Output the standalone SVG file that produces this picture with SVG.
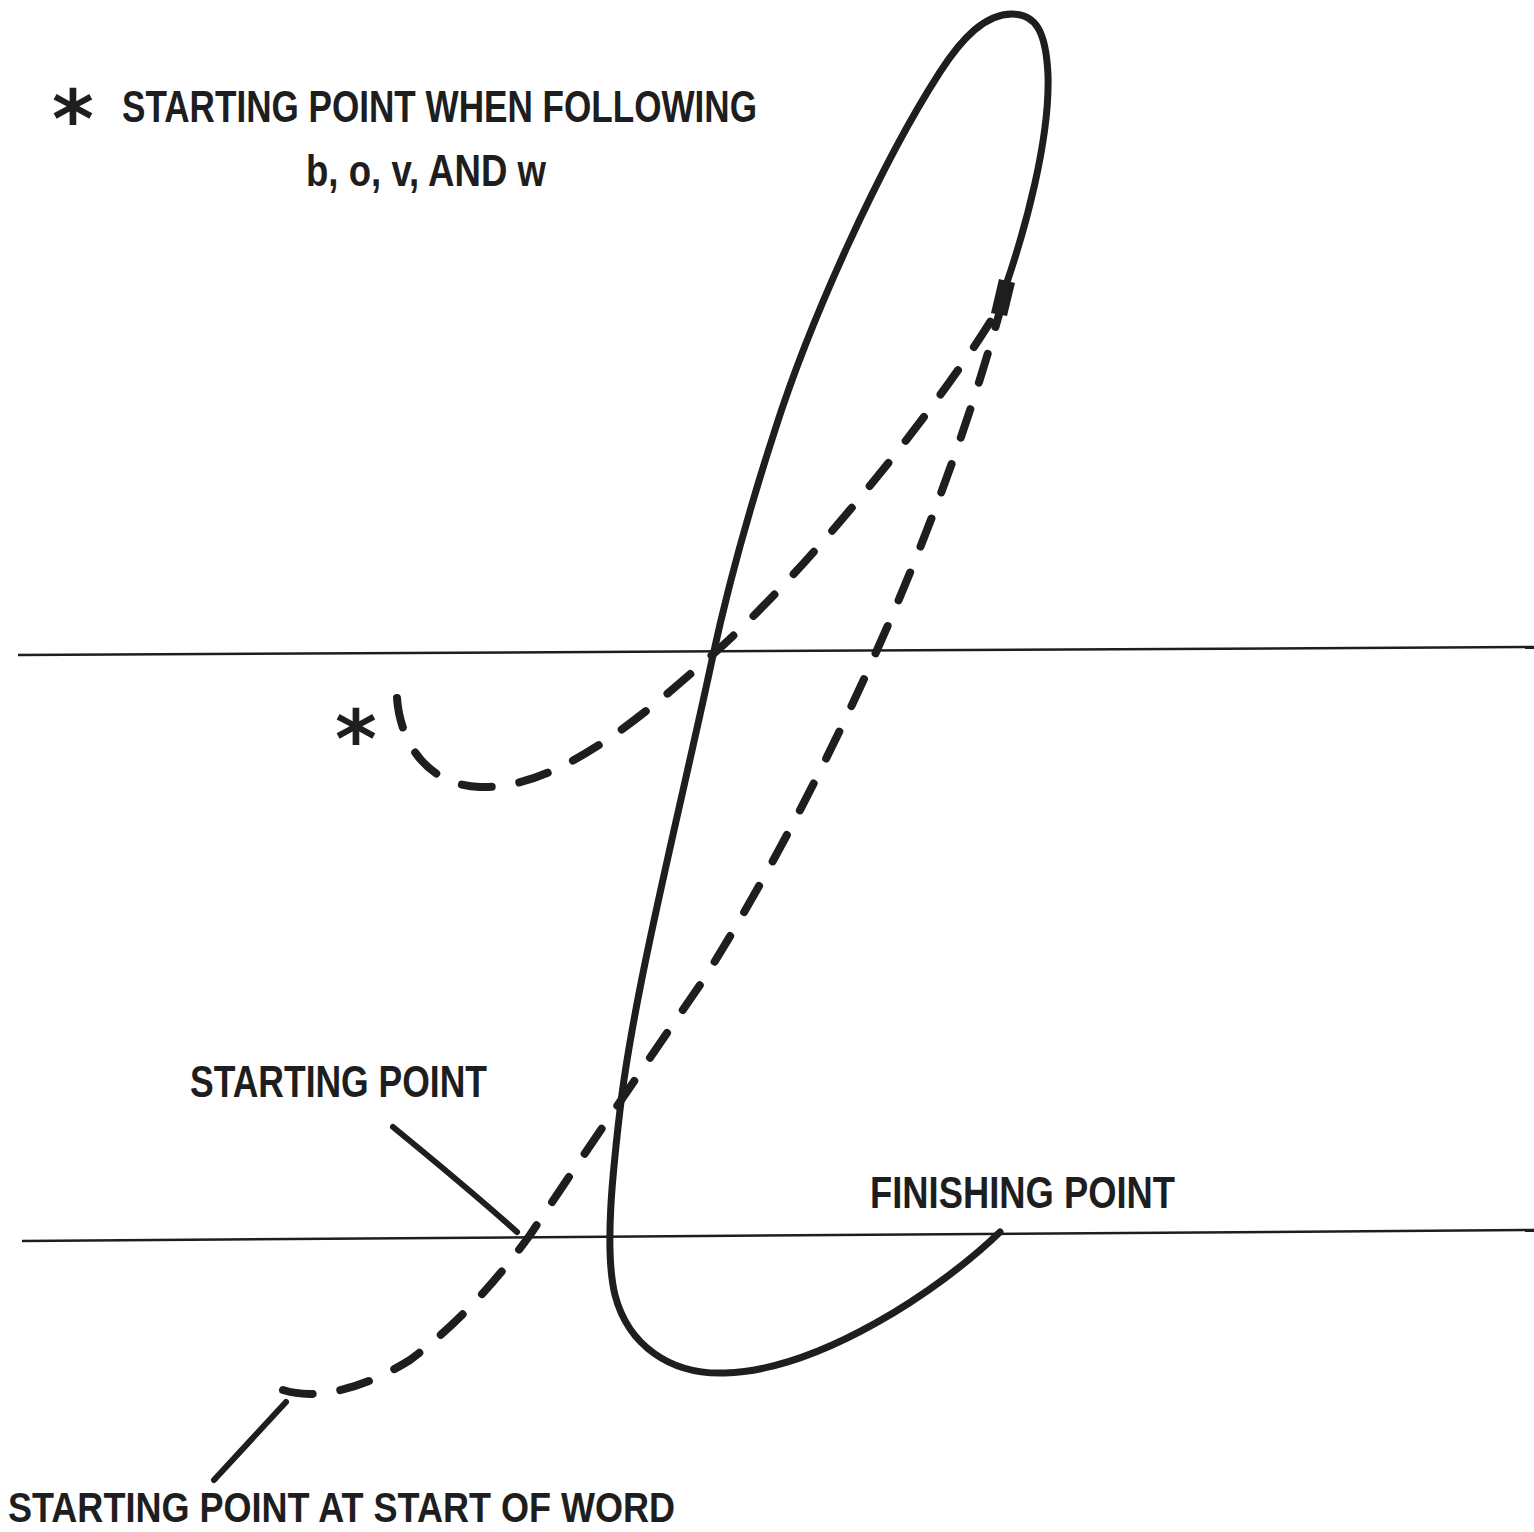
<svg xmlns="http://www.w3.org/2000/svg" width="1534" height="1532" viewBox="0 0 1534 1532">
<style>
.t{font-family:"Liberation Sans",Arial,sans-serif;font-weight:bold;fill:#1e1e1e}
.ast{font-family:"DejaVu Sans",sans-serif;font-weight:bold;fill:#1e1e1e}
.rule{stroke:#1e1e1e;stroke-width:2.5;fill:none}
.solid{stroke:#1e1e1e;stroke-width:7;fill:none;stroke-linecap:round;stroke-linejoin:round}
.dash{stroke:#1e1e1e;stroke-width:8;fill:none;stroke-linecap:round;stroke-dasharray:30 28}
.ptr{stroke:#1e1e1e;stroke-width:6;fill:none;stroke-linecap:round}
</style>
<rect width="1534" height="1532" fill="#ffffff"/>
<g id="legend">
<text class="ast" x="73" y="147" font-size="80" text-anchor="middle">*</text>
<text class="t" x="122" y="122" font-size="44" textLength="635" lengthAdjust="spacingAndGlyphs">STARTING POINT WHEN FOLLOWING</text>
<text class="t" x="306" y="186" font-size="44" textLength="240" lengthAdjust="spacingAndGlyphs">b, o, v, AND w</text>
</g>
<g id="guidelines">
<line class="rule" x1="18" y1="655" x2="1534" y2="647"/>
<line class="rule" x1="22" y1="1241" x2="1534" y2="1230"/>
</g>
<g id="connectors">
<path id="letter-stroke" class="solid" d="M1005,288 C1025,230 1050,140 1048,75 C1046,30 1035,14 1012,14 C985,14 962,38 940,72 C880,165 810,320 775,430 C749,510 727,590 712,660 C680,810 634,990 620,1110 C613,1170 604,1250 615,1295 C628,1345 670,1375 725,1373 C820,1370 940,1290 1000,1232"/>
<polygon id="arrowhead" points="999,279 1015,283 1007,316 991,313" fill="#1e1e1e"/>
<path id="dash-start-word" class="dash" d="M283,1390 C320,1402 370,1385 410,1360 C450,1330 490,1290 530,1235 C600,1130 700,985 700,985 C780,860 925,590 1003,300"/>
<path id="dash-after-bovw" class="dash" d="M397,698 C400,740 425,785 480,787 C560,790 650,710 720,648 C830,548 965,370 1003,300"/>
<path id="ptr-start" class="ptr" d="M393,1127 Q470,1190 517,1232"/>
<path id="ptr-start-word" class="ptr" d="M286,1402 L214,1480"/>
</g>
<g id="asterisk-mark">
<text class="ast" x="356" y="767" font-size="80" text-anchor="middle">*</text>
</g>
<g id="labels">
<text class="t" x="190" y="1097" font-size="44" textLength="297" lengthAdjust="spacingAndGlyphs">STARTING POINT</text>
<text class="t" x="870" y="1208" font-size="44" textLength="305" lengthAdjust="spacingAndGlyphs">FINISHING POINT</text>
<text class="t" x="8" y="1522" font-size="43" textLength="667" lengthAdjust="spacingAndGlyphs">STARTING POINT AT START OF WORD</text>
</g>
</svg>
